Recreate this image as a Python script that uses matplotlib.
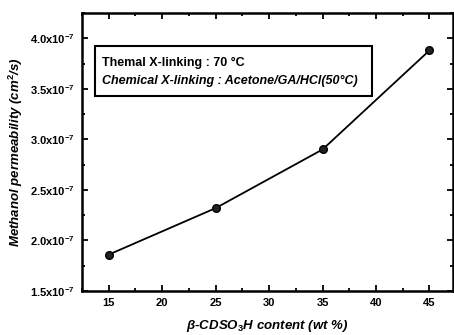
import matplotlib
matplotlib.use("Agg")
import matplotlib.pyplot as plt
from matplotlib.ticker import MultipleLocator, FuncFormatter
from matplotlib.patches import Rectangle

plt.rcParams['font.family'] = ['Liberation Sans', 'DejaVu Sans']
plt.rcParams['mathtext.fontset'] = 'custom'
plt.rcParams['mathtext.it'] = 'Liberation Sans:italic:bold'
plt.rcParams['mathtext.bf'] = 'Liberation Sans:bold'
plt.rcParams['mathtext.rm'] = 'Liberation Sans:bold'

content = [15, 25, 35, 45]
permeability = [1.86, 2.32, 2.90, 3.88]  # x 1e-7 cm^2/s
yticks = [1.5, 2.0, 2.5, 3.0, 3.5, 4.0]
xticks = [15, 20, 25, 30, 35, 40, 45]

fig = plt.figure(figsize=(4.54, 3.35), dpi=100)
ax = fig.add_axes([82/454, 1-291/335, (453-82)/454, (291-13)/335])

ax.plot(content, permeability, color='black', lw=1.3, marker='o', ms=5.5,
        markerfacecolor='#222222', markeredgecolor='black')

ax.set_xlim(12.5, 47.2)
ax.set_ylim(1.5, 4.25)
ax.set_xticks(xticks)
ax.set_yticks(yticks)
ax.xaxis.set_minor_locator(MultipleLocator(2.5))
ax.yaxis.set_minor_locator(MultipleLocator(0.25))
ax.yaxis.set_major_formatter(FuncFormatter(lambda v, p: r'%.1fx10$^{-7}$' % v))
ax.tick_params(which='both', direction='in', top=True, right=True, width=1.3)
ax.tick_params(which='major', length=4, labelsize=8, pad=5)
ax.tick_params(which='minor', length=2.5)
for lbl in ax.get_xticklabels() + ax.get_yticklabels():
    lbl.set_fontweight('bold')
for s in ax.spines.values():
    s.set_linewidth(1.8)

ax.set_ylabel(r'Methanol permeability (cm$^2$/s)', fontsize=9.5,
              fontweight='bold', fontstyle='italic', labelpad=4)
ax.set_xlabel('\u03b2-CDSO$_3$H content (wt %)', fontsize=9.5,
              fontweight='bold', fontstyle='italic', labelpad=7)

ax.text(0.055, 0.82, 'Themal X-linking : 70 \u00b0C',
        transform=ax.transAxes, fontsize=9, fontweight='bold', va='center')
ax.text(0.055, 0.755, 'Chemical X-linking : Acetone/GA/HCl(50\u00b0C)',
        transform=ax.transAxes, fontsize=9, fontstyle='italic',
        fontweight='bold', va='center')
ax.add_patch(Rectangle((0.035, 0.70), 0.747, 0.18, transform=ax.transAxes,
                       fill=False, lw=1.5, edgecolor='black'))

fig.savefig('out.png', dpi=100)
